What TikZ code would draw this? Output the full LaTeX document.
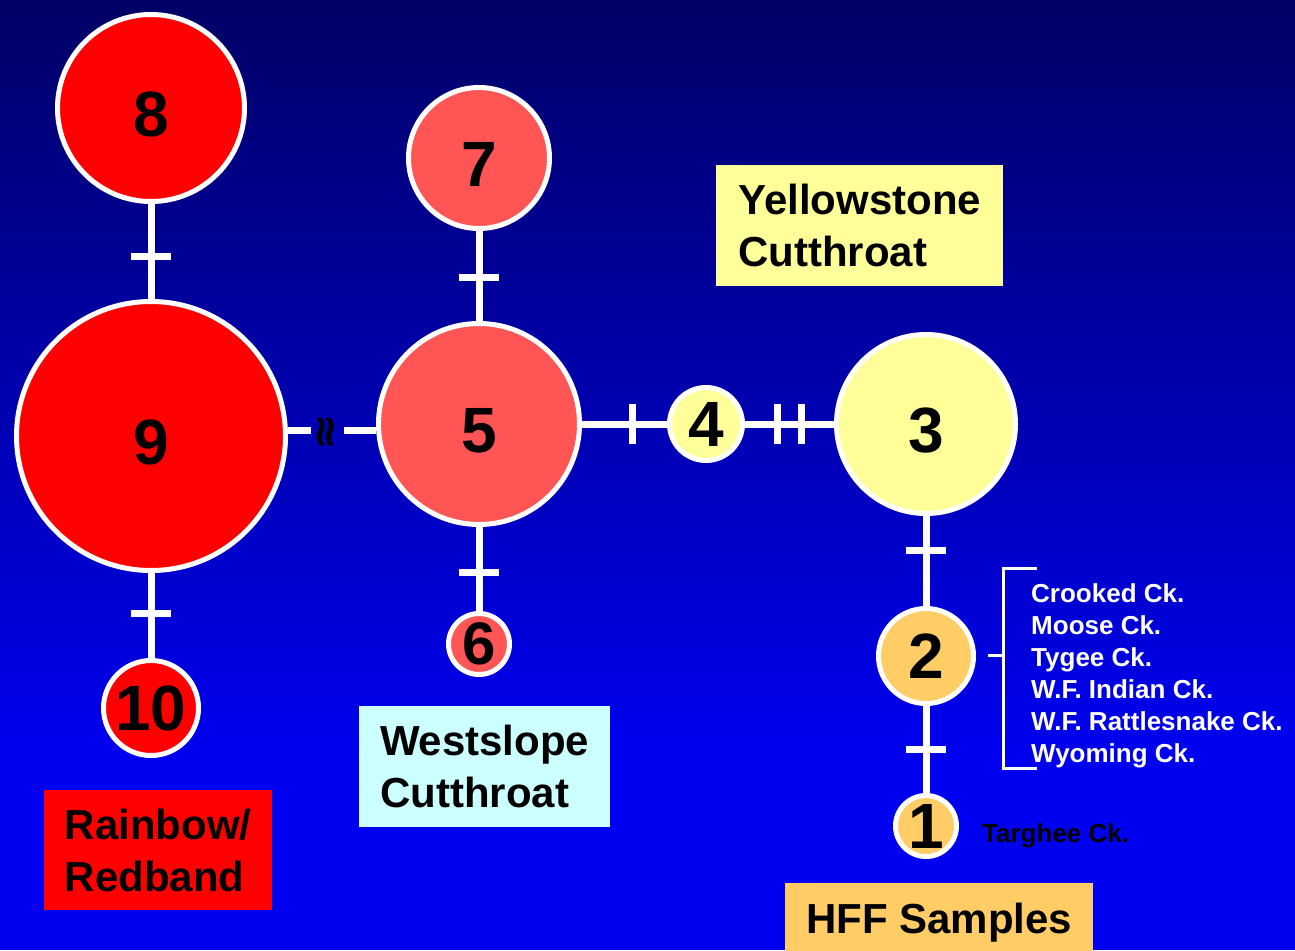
\documentclass[tikz,border=0pt]{standalone}
\usepackage{fontspec}
\setmainfont{Liberation Sans}
\newfontfamily\symfont{DejaVu Sans}
\definecolor{skytop}{HTML}{000066}
\definecolor{skybot}{HTML}{0000F0}
\definecolor{rbred}{HTML}{FF0000}
\definecolor{wsred}{HTML}{FF5555}
\definecolor{ysyel}{HTML}{FFFF99}
\definecolor{hffor}{HTML}{FFCC66}
\definecolor{wscyan}{HTML}{CCFFFF}
\begin{document}
\begin{tikzpicture}[x=1pt,y=-1pt,
  hap/.style={circle, draw=white, line width=5pt, inner sep=0pt, text=black,
    font=\bfseries\fontsize{64}{64}\selectfont},
  lowtext/.style={text height=56pt, text depth=0pt},
  link/.style={draw=white, line width=7pt},
  tick/.style={fill=white, inner sep=0pt, minimum width=7pt, minimum height=40pt, sloped},
  label/.style={rectangle, inner sep=0pt, align=left, anchor=north west, text=black,
    font=\bfseries\fontsize{42}{52}\selectfont},
  site/.style={inner sep=0pt, align=left, font=\bfseries\fontsize{26}{32}\selectfont}]
  \useasboundingbox (0,0) rectangle (1295,950);
  \clip (0,0) rectangle (1295,950);

  % background
  \shade[top color=skytop, bottom color=skybot] (0,0) rectangle (1295,761);
  \fill[skybot] (0,760) rectangle (1295,950);

  % haplotypes
  \node[hap, lowtext, fill=rbred, minimum size=187pt] (n8)  at (151,108) {8};
  \node[hap, lowtext, fill=rbred, minimum size=269pt] (n9)  at (151,436) {9};
  \node[hap, fill=rbred, minimum size=95pt]  (n10) at (151,708) {10};
  \node[hap, lowtext, fill=wsred, minimum size=141pt] (n7)  at (479,158) {7};
  \node[hap, lowtext, fill=wsred, minimum size=201pt] (n5)  at (479,424) {5};
  \node[hap, fill=wsred, minimum size=61pt, font=\bfseries\fontsize{60}{60}\selectfont] (n6) at (479,644) {6};
  \node[hap, fill=ysyel, minimum size=73pt]  (n4)  at (706,424) {4};
  \node[hap, lowtext, fill=ysyel, minimum size=179pt] (n3)  at (926,424) {3};
  \node[hap, fill=hffor, minimum size=95pt]  (n2)  at (926,656) {2};
  \node[hap, fill=hffor, minimum size=61pt]  (n1)  at (926,826) {1};

  % links with mutation ticks
  \draw[link] (n8) -- node[tick, pos=0.55] {} (n9);
  \draw[link] (n9) -- node[tick, pos=0.48] {} (n10);
  \draw[link] (n7) -- node[tick, pos=0.52] {} (n5);
  \draw[link] (n5) -- node[tick, pos=0.54] {} (n6);
  \draw[link] (n5) -- node[tick, pos=0.59] {} (n4);
  \draw[link] (n4) -- node[tick, pos=0.37] {} node[tick, pos=0.64] {} (n3);
  \draw[link] (n3) -- node[tick, pos=0.38] {} (n2);
  \draw[link] (n2) -- node[tick, pos=0.5] {} (n1);

  % broken link between 9 and 5
  \coordinate (gapL) at (311,430);
  \coordinate (gapR) at (344,430);
  \node[rotate=90, inner sep=0pt, font=\symfont\bfseries\fontsize{44}{44}\selectfont] (brk) at (328,432) {≈};
  \draw[link] (n9.east |- gapL) -- (gapL);
  \draw[link] (gapR) -- (n5.west |- gapR);

  % group labels
  \node[label, fill=ysyel, minimum width=287pt, minimum height=121pt] (ys) at (716,165) {Yellowstone\\Cutthroat};
  \node[label, fill=wscyan, minimum width=251pt, minimum height=121pt] (ws) at (359,706) {Westslope\\Cutthroat};
  \node[label, fill=rbred, minimum width=228pt, minimum height=120pt] (rb) at (44,790) {Rainbow/\\Redband};
  \node[label, fill=hffor, minimum width=308pt, minimum height=78pt] (hff) at (785,883) {HFF Samples};

  % sample sites
  \node[site, text=white, anchor=north west] (sites) at (1031,583)
    {Crooked Ck.\\Moose Ck.\\Tygee Ck.\\W.F. Indian Ck.\\W.F. Rattlesnake Ck.\\Wyoming Ck.};
  \draw[white, line width=3pt] (1037,568) -- (1003,568) -- (1003,768) -- (1037,768);
  \draw[white, line width=3pt] (988,655) -- (1003,655);
  \node[site, text=black, anchor=base west] (targhee) at (982,842) {Targhee Ck.};
\end{tikzpicture}
\end{document}
